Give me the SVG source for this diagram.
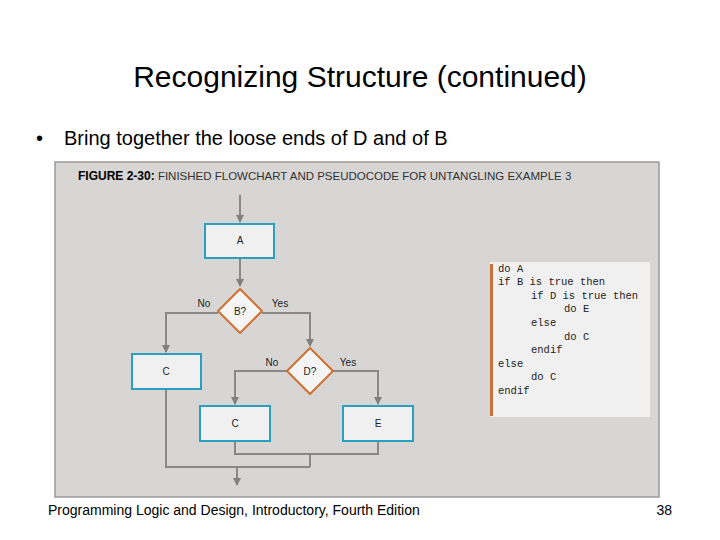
<svg xmlns="http://www.w3.org/2000/svg" width="720" height="540" viewBox="0 0 720 540">
<defs>
<marker id="ah" markerWidth="8" markerHeight="8" refX="7" refY="4" orient="auto" markerUnits="userSpaceOnUse"><path d="M0,0 L8,4 L0,8 z" fill="#808080"/></marker>
<style>
.t{font-family:"Liberation Sans",Arial,sans-serif;fill:#000}
.s{font-family:"Liberation Sans",Arial,sans-serif;font-size:10px;fill:#222}
.box{fill:#f0f0f0;stroke:#2aa0c0;stroke-width:2}
.dia{fill:#f4f4f4;stroke:#d07030;stroke-width:2}
.ln{fill:none;stroke:#888;stroke-width:2}
.code{font-family:"Liberation Mono","Courier New",monospace;font-size:10.5px;fill:#222}
</style>
</defs>
<rect width="720" height="540" fill="#fff"/>
<text class="t" x="360" y="87" font-size="30" text-anchor="middle">Recognizing Structure (continued)</text>
<text class="t" x="36" y="145" font-size="20">•</text>
<text class="t" x="64" y="145" font-size="20">Bring together the loose ends of D and of B</text>
<rect x="55" y="162" width="604" height="335" fill="#d7d6d4" stroke="#999" stroke-width="1.5"/>
<text class="t" x="78" y="180" font-size="12"><tspan font-weight="bold">FIGURE 2-30:</tspan><tspan fill="#333" font-size="11.5"> FINISHED FLOWCHART AND PSEUDOCODE FOR UNTANGLING EXAMPLE 3</tspan></text>
<g id="connectors">
<path class="ln" d="M240,195 V222" marker-end="url(#ah)"/>
<path class="ln" d="M240,258 V286" marker-end="url(#ah)"/>
<path class="ln" d="M218,313 H166 V352" marker-end="url(#ah)"/>
<path class="ln" d="M262,313 H310 V346" marker-end="url(#ah)"/>
<path class="ln" d="M287,371 H235 V404" marker-end="url(#ah)"/>
<path class="ln" d="M333,371 H378 V404" marker-end="url(#ah)"/>
<path class="ln" d="M235,441 V454 H378 V441"/>
<path class="ln" d="M310,454 V467"/>
<path class="ln" d="M166,389 V467 H310"/>
<path class="ln" d="M237,467 V485" marker-end="url(#ah)"/>
<text class="s" x="204" y="307" text-anchor="middle">No</text>
<text class="s" x="280" y="307" text-anchor="middle">Yes</text>
<text class="s" x="272" y="366" text-anchor="middle">No</text>
<text class="s" x="348" y="366" text-anchor="middle">Yes</text>
</g>
<g id="A"><rect class="box" x="205" y="224" width="69" height="34"/><text class="s" x="240" y="244" text-anchor="middle">A</text></g>
<g id="B"><path class="dia" d="M240,289 L262,311 L240,333 L218,311 Z" stroke-linejoin="round"/><text class="s" x="240" y="315" text-anchor="middle">B?</text></g>
<g id="C1"><rect class="box" x="132" y="354" width="69" height="35"/><text class="s" x="166" y="375" text-anchor="middle">C</text></g>
<g id="D"><path class="dia" d="M310,348 L333,371 L310,394 L287,371 Z" stroke-linejoin="round"/><text class="s" x="310" y="375" text-anchor="middle">D?</text></g>
<g id="C2"><rect class="box" x="200" y="406" width="70" height="35"/><text class="s" x="235" y="427" text-anchor="middle">C</text></g>
<g id="E"><rect class="box" x="343" y="406" width="70" height="35"/><text class="s" x="378" y="427" text-anchor="middle">E</text></g>
<g id="code">
<rect x="490" y="262" width="160" height="155" fill="#f0f0f0"/>
<rect x="490" y="264" width="3" height="152" fill="#c8703a"/>
<text class="code" x="498" y="272">do A</text>
<text class="code" x="498" y="285">if B is true then</text>
<text class="code" x="531" y="299">if D is true then</text>
<text class="code" x="564" y="312">do E</text>
<text class="code" x="531" y="326">else</text>
<text class="code" x="564" y="340">do C</text>
<text class="code" x="531" y="353">endif</text>
<text class="code" x="498" y="367">else</text>
<text class="code" x="531" y="380">do C</text>
<text class="code" x="498" y="394">endif</text>
</g>
<text class="t" x="48" y="515" font-size="14">Programming Logic and Design, Introductory, Fourth Edition</text>
<text class="t" x="672" y="515" font-size="14" text-anchor="end">38</text>
</svg>
